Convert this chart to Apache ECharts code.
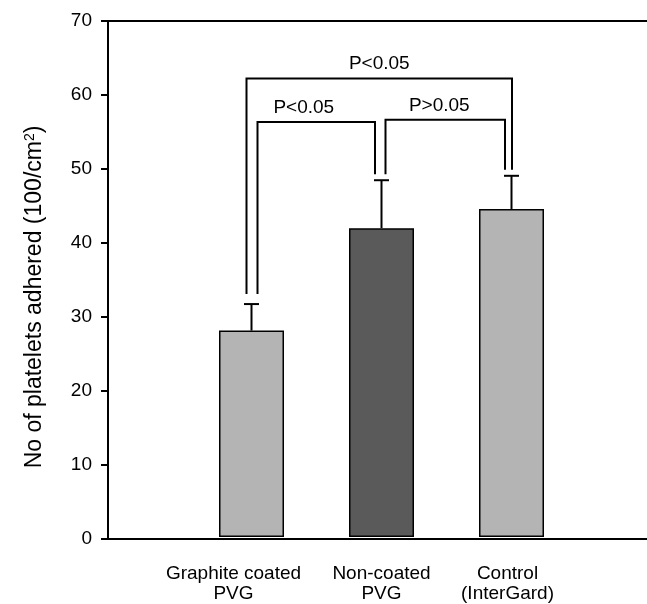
<!DOCTYPE html>
<html>
<head>
<meta charset="utf-8">
<script src="https://cdn.jsdelivr.net/npm/echarts@6/dist/echarts.min.js"></script>
<style>html,body{margin:0;padding:0;background:#fff}#c{width:647px;height:604px}</style>
</head>
<body>
<div id="c"></div>
<script>
// ---- data ----
const categories = ['Graphite coated\nPVG', 'Non-coated\nPVG', 'Control\n(InterGard)'];
const values = [28.0, 41.9, 44.5];
const errors = [3.6, 6.5, 4.5];
const yTicks = [0, 10, 20, 30, 40, 50, 60, 70];
const bracketFrom = [0, 0, 1];
const bracketTo = [2, 1, 2];
const bracketLevel = [62.2, 56.3, 56.6];
const bracketLabel = ['P<0.05', 'P<0.05', 'P>0.05'];
const yTitle = 'No of platelets adhered (100/cm{sup|2})';

// ---- styles ----
const FONT = 'Liberation Sans, Arial, sans-serif';
const barColors = ['#b4b4b4', '#5a5a5a', '#b4b4b4'];
const legOffsets = [[-5, 0.5], [6, -6.5], [4, -6.5]];
const labelShift = [0, -12.5, -6];
const legGap = [10, 6, 6];
const catShift = [36, 0, 8];

const chart = echarts.init(document.getElementById('c'));
const gridTop = 21, gridBottom = 65;

chart.setOption({
  animation: false,
  backgroundColor: '#fff',
  grid: [
    {left: 108, right: 0, top: gridTop, bottom: gridBottom},
    {left: 186.5, right: 70.5, top: gridTop, bottom: gridBottom}
  ],
  xAxis: [
    {gridIndex: 0, type: 'value', min: 0, max: 1, position: 'bottom',
     axisLine: {show: true, lineStyle: {color: '#000', width: 2}},
     axisTick: {show: false}, axisLabel: {show: false}, splitLine: {show: false}},
    {gridIndex: 0, type: 'value', min: 0, max: 1, position: 'top',
     axisLine: {show: true, lineStyle: {color: '#000', width: 2}},
     axisTick: {show: false}, axisLabel: {show: false}, splitLine: {show: false}},
    {gridIndex: 1, type: 'category', data: categories,
     axisLine: {show: false}, axisTick: {show: false}, splitLine: {show: false},
     axisLabel: {
       margin: 27, color: '#000', fontFamily: FONT, fontSize: 19, lineHeight: 20,
       interval: 0,
       formatter: function (v, i) {
         return v.split('\n').map(function (s) { return '{s' + i + '|' + s + '}'; }).join('\n');
       },
       rich: {
         s0: {fontSize: 19, lineHeight: 20, fontFamily: FONT, color: '#000', padding: [0, catShift[0], 0, 0]},
         s1: {fontSize: 19, lineHeight: 20, fontFamily: FONT, color: '#000', padding: [0, catShift[1], 0, 0]},
         s2: {fontSize: 19, lineHeight: 20, fontFamily: FONT, color: '#000', padding: [0, catShift[2], 0, 0]}
       }
     }}
  ],
  yAxis: [
    {gridIndex: 0, type: 'value', min: yTicks[0], max: yTicks[yTicks.length - 1], interval: 10,
     name: yTitle, nameLocation: 'middle', nameGap: 62,
     nameTextStyle: {color: '#000', fontFamily: FONT, fontSize: 23, padding: [0, 34, 0, 0],
       rich: {sup: {fontSize: 14, fontFamily: FONT, color: '#000', verticalAlign: 'top'}}},
     axisLine: {show: true, lineStyle: {color: '#000', width: 2}},
     axisTick: {show: true, inside: false, length: 7, lineStyle: {color: '#000', width: 2}},
     axisLabel: {margin: 16, color: '#000', fontFamily: FONT, fontSize: 19},
     splitLine: {show: false}},
    {gridIndex: 1, type: 'value', min: yTicks[0], max: yTicks[yTicks.length - 1], show: false}
  ],
  series: [
    {type: 'bar', xAxisIndex: 2, yAxisIndex: 1, barWidth: 65,
     data: values.map(function (v, i) {
       return {value: v, itemStyle: {color: barColors[i], borderColor: '#000', borderWidth: 1.5}};
     })},
    {type: 'custom', xAxisIndex: 2, yAxisIndex: 1, z: 5,
     data: values.map(function (v, i) { return [i, v, errors[i]]; }),
     renderItem: function (params, api) {
       const i = api.value(0), v = api.value(1), e = api.value(2);
       const p0 = api.coord([i, v]);
       const p1 = api.coord([i, v + e]);
       const st = {stroke: '#000', lineWidth: 2};
       return {type: 'group', children: [
         {type: 'line', shape: {x1: p0[0], y1: p0[1], x2: p1[0], y2: p1[1]}, style: st},
         {type: 'line', shape: {x1: p1[0] - 7.5, y1: p1[1], x2: p1[0] + 7.5, y2: p1[1]}, style: st}
       ]};
     }},
    {type: 'custom', xAxisIndex: 2, yAxisIndex: 1, z: 6,
     data: bracketFrom.map(function (f, k) { return [k]; }),
     renderItem: function (params, api) {
       const k = api.value(0);
       const a = bracketFrom[k], b = bracketTo[k];
       const topA = api.coord([a, values[a] + errors[a]]);
       const topB = api.coord([b, values[b] + errors[b]]);
       const lvl = api.coord([a, bracketLevel[k]])[1];
       const xa = topA[0] + legOffsets[k][0];
       const xb = topB[0] + legOffsets[k][1];
       const ya = topA[1] - legGap[a];
       const yb = topB[1] - legGap[b];
       return {type: 'group', children: [
         {type: 'polyline', shape: {points: [[xa, ya], [xa, lvl], [xb, lvl], [xb, yb]]},
          style: {stroke: '#000', lineWidth: 2, fill: null}},
         {type: 'text', style: {text: bracketLabel[k], x: (xa + xb) / 2 + labelShift[k], y: lvl - 5,
          align: 'center', verticalAlign: 'bottom', fill: '#000', fontSize: 19, fontFamily: FONT}}
       ]};
     }}
  ]
});
</script>
</body>
</html>
